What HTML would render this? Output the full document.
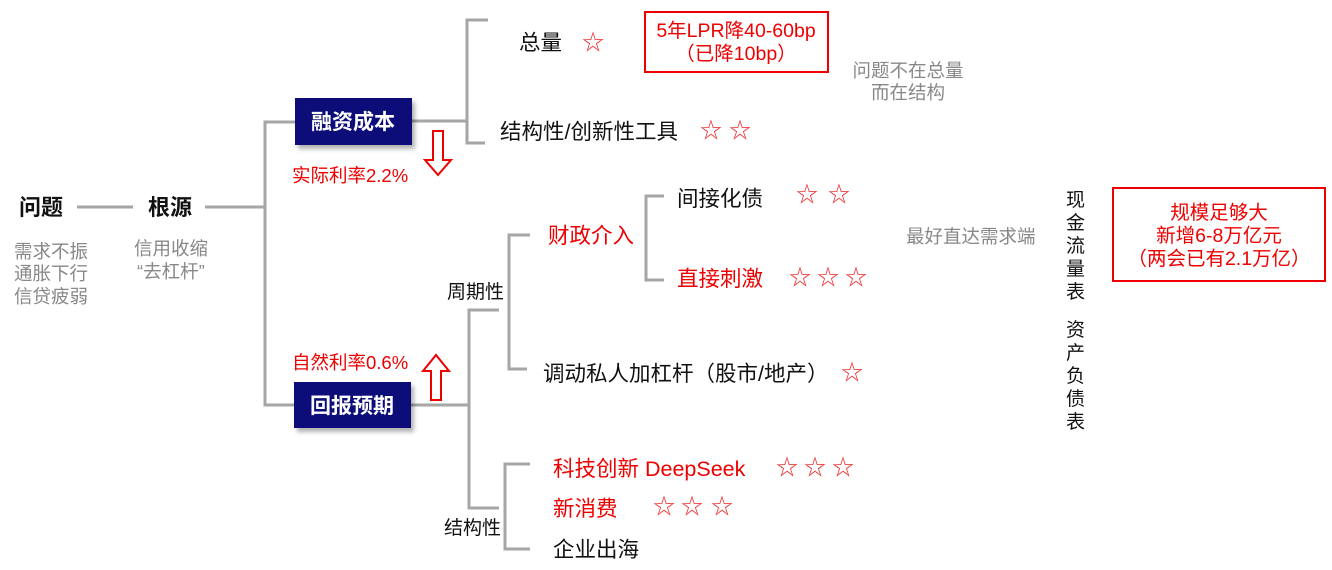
<!DOCTYPE html>
<html><head><meta charset="utf-8"><style>
html,body{margin:0;padding:0;background:#fff;}
svg{display:block;font-family:"Liberation Sans","Noto Sans CJK SC",sans-serif;}
</style></head><body>
<svg width="1332" height="570" viewBox="0 0 1332 570" xmlns="http://www.w3.org/2000/svg">
<defs><filter id="sh" x="-10%" y="-10%" width="130%" height="140%"><feDropShadow dx="3" dy="4" stdDeviation="2" flood-color="#000" flood-opacity="0.3"/></filter></defs>
<g stroke="#a6a6a6" stroke-width="3" fill="none">
<line x1="77" y1="207" x2="133" y2="207"/>
<line x1="205" y1="207" x2="265" y2="207"/>
<polyline points="295,122 265,122 265,405 295,405"/>
<line x1="412" y1="121" x2="467" y2="121"/>
<polyline points="488,20 467,20 467,143 485,143"/>
<line x1="411" y1="405" x2="469" y2="405"/>
<polyline points="499,310 469,310 469,508 499,508"/>
<polyline points="530,235 509,235 509,369 527,369"/>
<polyline points="664,196 646,196 646,280 664,280"/>
<polyline points="530,464 505,464 505,549 530,549"/>
</g>
<rect x="295" y="98" width="117" height="47" fill="#0a0a7a" filter="url(#sh)"/>
<rect x="294" y="382" width="117" height="46" fill="#0a0a7a" filter="url(#sh)"/>
<g fill="#fff" font-size="21" font-weight="bold" text-anchor="middle">
<text x="353" y="129">融资成本</text>
<text x="352" y="413">回报预期</text>
</g>
<g fill="none" stroke="#e00" stroke-width="2">
<polygon points="433,131 443,131 443,160 451,160 438,175 425,160 433,160"/>
<polygon points="431,400 441,400 441,371 449,371 436,355 423,371 431,371"/>
<rect x="645" y="12" width="183" height="60"/>
<rect x="1113" y="188" width="212" height="93"/>
</g>
<g fill="#111" font-size="22" font-weight="bold">
<text x="19" y="215">问题</text>
<text x="148" y="215">根源</text>
</g>
<g fill="#888" font-size="18.5">
<text x="14" y="258">需求不振</text>
<text x="14" y="280">通胀下行</text>
<text x="14" y="303">信贷疲弱</text>
<text x="134" y="255">信用收缩</text>
<text x="137" y="278">“去杠杆”</text>
<text x="908" y="77" text-anchor="middle">问题不在总量</text>
<text x="908" y="99" text-anchor="middle">而在结构</text>
<text x="906" y="243">最好直达需求端</text>
</g>
<g fill="#111" font-size="21.5">
<text x="519" y="50">总量</text>
<text x="500" y="139">结构性/创新性工具</text>
<text x="677" y="206">间接化债</text>
<text x="543" y="381">调动私人加杠杆（股市/地产）</text>
<text x="553" y="557">企业出海</text>
</g>
<g fill="#111" font-size="19">
<text x="447" y="298">周期性</text>
<text x="444" y="534">结构性</text>
<text x="1066" y="206">现</text><text x="1066" y="229">金</text><text x="1066" y="252">流</text><text x="1066" y="275">量</text><text x="1066" y="298">表</text>
<text x="1066" y="336">资</text><text x="1066" y="359">产</text><text x="1066" y="382">负</text><text x="1066" y="405">债</text><text x="1066" y="428">表</text>
</g>
<g fill="#e00" font-size="21.5">
<text x="548" y="243">财政介入</text>
<text x="677" y="286">直接刺激</text>
<text x="553" y="476">科技创新 DeepSeek</text>
<text x="553" y="516">新消费</text>
</g>
<g fill="#e00" font-size="18.5">
<text x="292" y="182">实际利率2.2%</text>
<text x="292" y="369">自然利率0.6%</text>
</g>
<g fill="#e00" font-size="19.5" text-anchor="middle">
<text x="736" y="37">5年LPR降40-60bp</text>
<text x="736" y="60">（已降10bp）</text>
<text x="1219" y="219">规模足够大</text>
<text x="1219" y="242">新增6-8万亿元</text>
<text x="1219" y="265">（两会已有2.1万亿）</text>
</g>
<g fill="#e33" font-size="22" text-anchor="middle">
<text x="593" y="50">☆</text>
<text x="711" y="138">☆</text><text x="740" y="138">☆</text>
<text x="807" y="202">☆</text><text x="839" y="202">☆</text>
<text x="800" y="285">☆</text><text x="828" y="285">☆</text><text x="856" y="285">☆</text>
<text x="852" y="380">☆</text>
<text x="787" y="475">☆</text><text x="815" y="475">☆</text><text x="843" y="475">☆</text>
<text x="664" y="514">☆</text><text x="692" y="514">☆</text><text x="722" y="514">☆</text>
</g>
</svg>
</body></html>
